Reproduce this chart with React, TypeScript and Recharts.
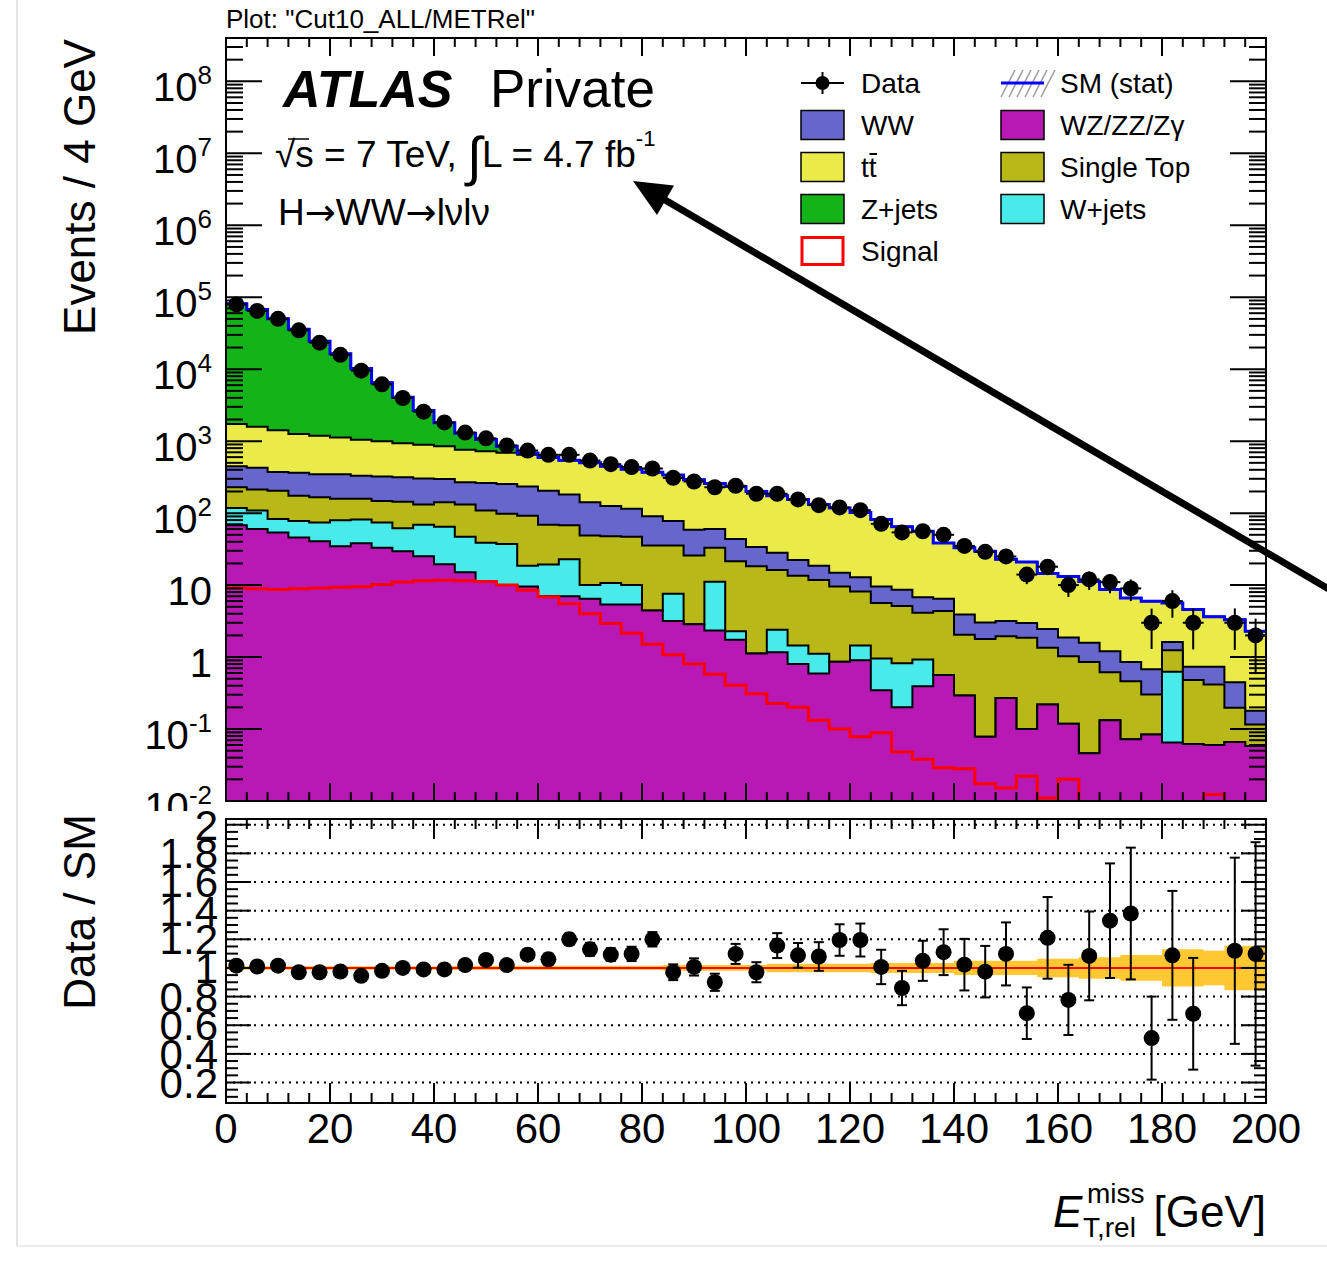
import React from 'react';
import {
  ComposedChart,
  Area,
  Line,
  Scatter,
  XAxis,
  YAxis,
  ErrorBar,
  ReferenceArea,
  ReferenceLine,
} from 'recharts';

const FONT = '"Liberation Sans", Arial, Helvetica, sans-serif';

// ---------------- data (50 bins of 4 GeV) ----------------
const BIN_LO = [0, 4, 8, 12, 16, 20, 24, 28, 32, 36, 40, 44, 48, 52, 56, 60, 64, 68, 72, 76, 80, 84, 88, 92, 96, 100, 104, 108, 112, 116, 120, 124, 128, 132, 136, 140, 144, 148, 152, 156, 160, 164, 168, 172, 176, 180, 184, 188, 192, 196];

const WZ = [67.6, 60.3, 53.7, 45.7, 40.7, 34.7, 38.0, 33.1, 29.5, 25.1, 19.5, 15.1, 11.2, 10.0, 9.55, 7.08, 7.0, 6.46, 5.37, 5.37, 4.42, 3.16, 2.85, 2.34, 1.74, 1.12, 1.17, 0.8, 0.589, 0.861, 0.9, 0.347, 0.2, 0.394, 0.562, 0.292, 0.078, 0.269, 0.1, 0.219, 0.118, 0.046, 0.132, 0.072, 0.084, 0.065, 0.062, 0.06, 0.066, 0.058];
const WJETS = [49.9, 48.1, 29.5, 31.9, 33.4, 44.7, 43.3, 41.0, 32.2, 44.1, 45.1, 31.7, 27.7, 27.2, 9.05, 12.2, 15.9, 3.54, 5.33, 4.63, 0, 4.43, 0, 8.76, 0.55, 0, 1.23, 0.645, 0.52, 0, 0.545, 0.608, 0.622, 0.529, 0, 0, 0, 0, 0, 0, 0, 0, 0, 0, 0, 0.559, 0, 0, 0, 0];
const STOP = [111.5, 105.4, 120.8, 96.2, 91.9, 79.1, 77.2, 73.8, 82.8, 62.6, 76.7, 85.0, 69.5, 60.5, 73.7, 49.9, 44.7, 39.0, 37.2, 36.8, 31.1, 27.9, 22.85, 22.0, 19.1, 17.1, 13.8, 12.05, 10.64, 8.69, 6.69, 4.67, 4.31, 3.2, 3.81, 1.75, 1.7, 1.68, 1.76, 1.13, 0.905, 0.805, 0.485, 0.39, 0.218, 0.621, 0.417, 0.357, 0.131, 0.058];
const WWV = [218, 212.8, 167.5, 189.2, 180.7, 188.2, 172.6, 175.7, 171.7, 170.2, 157.2, 137.4, 154.6, 156.4, 142.1, 135.0, 114.4, 92.3, 78.0, 68.0, 54.7, 42.1, 33.2, 27.2, 22.3, 15.7, 12.0, 8.9, 6.85, 5.25, 4.77, 3.93, 3.48, 2.64, 2.09, 1.85, 1.24, 1.21, 1.125, 1.105, 0.84, 0.734, 0.585, 0.389, 0.374, 0.375, 0.254, 0.316, 0.25, 0.063];
const TTBAR = [1291, 1158, 1042, 896, 842, 775, 716, 676, 617, 589, 552, 489, 461, 438, 411, 378, 355, 360, 321, 293, 281, 261, 233, 197, 191, 166, 146, 132.5, 113.2, 102.7, 89.4, 71.7, 56.0, 49.4, 32.0, 29.2, 26.5, 19.7, 17.9, 12.0, 11.3, 9.6, 7.51, 5.76, 5.28, 4.0, 3.84, 2.9, 2.86, 2.11];
const ZJETS = [79540, 66015, 48690, 34640, 23360, 15210, 9183, 5457, 3141, 1770, 956, 529, 330, 159, 38, 16, 6, 0, 0, 0, 0, 0, 0, 0, 0, 0, 0, 0, 0, 0, 0, 0, 0, 0, 0, 0, 0, 0, 0, 0, 0, 0, 0, 0, 0, 0, 0, 0, 0, 0];
const SIGNAL = [9.1, 8.9, 8.7, 8.9, 9.1, 9.3, 9.5, 10.2, 11.0, 11.5, 11.7, 11.5, 11.2, 10.0, 8.5, 6.9, 5.5, 4.0, 2.92, 2.14, 1.51, 1.08, 0.8, 0.575, 0.407, 0.309, 0.226, 0.2, 0.132, 0.1, 0.078, 0.089, 0.048, 0.038, 0.029, 0.028, 0.0174, 0.0151, 0.0221, 0.011, 0.02, 0.005, 0.005, 0.005, 0.005, 0.005, 0.005, 0.0123, 0.005, 0.005];
const DATA: (number | null)[] = [79400, 64600, 50100, 34700, 23400, 15850, 9550, 6170, 3980, 2570, 1820, 1318, 1096, 871, 741, 646, 646, 537, 479, 437, 417, 309, 275, 229, 240, 186, 186, 155, 129, 120, 110, 71, 54, 56, 50, 35, 29, 25, 14, 18, 10, 12, 11, 9, 3, 6, 3, null, 3, 2];
const RATIO: (number | null)[] = [1.016, 1.01, 1.016, 0.97, 0.97, 0.975, 0.945, 0.98, 1.0, 0.99, 0.99, 1.02, 1.056, 1.02, 1.093, 1.06, 1.2, 1.13, 1.093, 1.098, 1.2, 0.97, 1.007, 0.9, 1.098, 0.97, 1.156, 1.088, 1.08, 1.195, 1.195, 1.007, 0.86, 1.05, 1.11, 1.023, 0.974, 1.098, 0.684, 1.21, 0.777, 1.084, 1.33, 1.38, 0.51, 1.088, 0.68, null, 1.12, 1.098];
const RATIO_ERR: (number | null)[] = [0.005, 0.006, 0.006, 0.007, 0.008, 0.01, 0.012, 0.014, 0.017, 0.02, 0.023, 0.028, 0.03, 0.034, 0.038, 0.04, 0.04, 0.045, 0.045, 0.05, 0.05, 0.055, 0.06, 0.06, 0.07, 0.07, 0.087, 0.086, 0.1, 0.11, 0.115, 0.12, 0.12, 0.14, 0.16, 0.18, 0.18, 0.22, 0.18, 0.285, 0.245, 0.31, 0.4, 0.46, 0.29, 0.45, 0.39, null, 0.65, 0.78];
const MC_STAT = [0.012, 0.012, 0.012, 0.012, 0.012, 0.012, 0.012, 0.012, 0.012, 0.012, 0.012, 0.015, 0.015, 0.015, 0.015, 0.015, 0.015, 0.015, 0.015, 0.015, 0.015, 0.02, 0.02, 0.02, 0.02, 0.02, 0.03, 0.03, 0.03, 0.03, 0.03, 0.035, 0.035, 0.035, 0.035, 0.05, 0.05, 0.05, 0.05, 0.065, 0.065, 0.075, 0.075, 0.09, 0.09, 0.13, 0.13, 0.12, 0.155, 0.155];

// ---------------- ticks ----------------
const X_MAJOR = [0, 20, 40, 60, 80, 100, 120, 140, 160, 180, 200];
const X_MINOR_STEP = 4;
const X_ALL = Array.from({ length: 51 }, (_, i) => i * X_MINOR_STEP);
const LOG_DECADES = [-2, -1, 0, 1, 2, 3, 4, 5, 6, 7, 8];
const LOG_MULT = [1, 2, 3, 4, 5, 6, 7, 8, 9];
const LOG_TICKS = LOG_DECADES.flatMap((d) => LOG_MULT.map((m) => m * Math.pow(10, d))).filter((v) => v <= 4e8);
const RATIO_MAJOR = [0.2, 0.4, 0.6, 0.8, 1.0, 1.2, 1.4, 1.6, 1.8, 2.0];
const RATIO_MINOR = [0.1, 0.15, 0.25, 0.3, 0.35, 0.45, 0.5, 0.55, 0.65, 0.7, 0.75, 0.85, 0.9, 0.95, 1.05, 1.1, 1.15, 1.25, 1.3, 1.35, 1.45, 1.5, 1.55, 1.65, 1.7, 1.75, 1.85, 1.9, 1.95];
const RATIO_TICKS = [...RATIO_MAJOR, ...RATIO_MINOR].sort((a, b) => a - b);

const COL = {
  zjets: '#14B418',
  ttbar: '#EAEA48',
  ww: '#6666CC',
  stop: '#B8B818',
  wjets: '#48EAEA',
  wz: '#B818B4',
  band: '#FFC832',
};

// ---------------- layout ----------------
const W = 1327;
const M_L = 226;
const M_R = 1266;
const M_T = 38;
const M_B = 801;
const MAIN_H = 821;
const R_TOP = 811; // page y of ratio pad
const R_H = 360;
const R_T = 8; // plot top inside ratio chart
const R_B = 292; // plot bottom inside ratio chart

// ---------------- derived rows ----------------
const mainRows = [...BIN_LO, 200].map((x, k) => {
  const i = Math.min(k, BIN_LO.length - 1);
  const c1 = WZ[i];
  const c2 = c1 + WJETS[i];
  const c3 = c2 + STOP[i];
  const c4 = c3 + WWV[i];
  const c5 = c4 + TTBAR[i];
  const c6 = c5 + ZJETS[i];
  return { x, c1, c2, c3, c4, c5, c6, sig: SIGNAL[i] };
});

const dataPts = BIN_LO.map((lo, i) => {
  const d = DATA[i];
  const r = RATIO[i];
  const e = RATIO_ERR[i];
  if (d == null || r == null || e == null) return null;
  return { x: lo + 2, y: d, ex: 2, ey: (d * e) / r };
}).filter((p) => p !== null) as { x: number; y: number; ex: number; ey: number }[];

const ratioRows = [...BIN_LO, 200].map((x, k) => {
  const i = Math.min(k, BIN_LO.length - 1);
  return { x, band: [1 - MC_STAT[i], 1 + MC_STAT[i]] };
});

const ratioPts = BIN_LO.map((lo, i) => {
  const r = RATIO[i];
  const e = RATIO_ERR[i];
  if (r == null || e == null) return null;
  return { x: lo + 2, y: r, ey: e };
}).filter((p) => p !== null) as { x: number; y: number; ey: number }[];

// ---------------- tick renderers ----------------
const renderMainXTick = (p: any) => {
  const v = p.payload.value;
  const x = p.x;
  const major = X_MAJOR.includes(v);
  const len = major ? 18 : 9;
  return (
    <g>
      <line x1={x} x2={x} y1={M_B} y2={M_B - len} stroke="#000" strokeWidth={2} />
      <line x1={x} x2={x} y1={M_T} y2={M_T + len} stroke="#000" strokeWidth={2} />
    </g>
  );
};

const renderLogTick = (p: any) => {
  const v = p.payload.value;
  const y = p.y;
  const lg = Math.log10(v);
  const e = Math.round(lg);
  const major = Math.abs(lg - e) < 1e-6;
  const len = major ? 36 : 17;
  let label: React.ReactNode = null;
  if (major) {
    if (e === 0 || e === 1) {
      label = (
        <text x={M_L - 14} y={y + 20} textAnchor="end" fontSize={40} fontFamily={FONT} fill="#000">
          {e === 0 ? '1' : '10'}
        </text>
      );
    } else {
      label = (
        <text x={M_L - 14} y={y + 20} textAnchor="end" fontSize={40} fontFamily={FONT} fill="#000">
          10
          <tspan fontSize={26} dy={-17}>
            {String(e)}
          </tspan>
        </text>
      );
    }
  }
  return (
    <g>
      <line x1={M_L} x2={M_L + len} y1={y} y2={y} stroke="#000" strokeWidth={2} />
      <line x1={M_R} x2={M_R - len} y1={y} y2={y} stroke="#000" strokeWidth={2} />
      {label}
    </g>
  );
};

const renderRatioXTick = (p: any) => {
  const v = p.payload.value;
  const x = p.x;
  const major = X_MAJOR.includes(v);
  const len = major ? 20 : 10;
  return (
    <g>
      <line x1={x} x2={x} y1={R_B} y2={R_B - len} stroke="#000" strokeWidth={2} />
      <line x1={x} x2={x} y1={R_T} y2={R_T + len} stroke="#000" strokeWidth={2} />
      {major ? (
        <text x={x} y={R_B + 40} textAnchor="middle" fontSize={42} fontFamily={FONT} fill="#000">
          {String(v)}
        </text>
      ) : null}
    </g>
  );
};

const renderRatioYTick = (p: any) => {
  const v = p.payload.value;
  const y = p.y;
  const major = RATIO_MAJOR.some((m) => Math.abs(m - v) < 1e-6);
  const len = major ? 25 : 12;
  return (
    <g>
      <line x1={M_L} x2={M_L + len} y1={y} y2={y} stroke="#000" strokeWidth={2} />
      <line x1={M_R} x2={M_R - len} y1={y} y2={y} stroke="#000" strokeWidth={2} />
      {major ? (
        <text x={218} y={y + 15} textAnchor="end" fontSize={42} fontFamily={FONT} fill="#000">
          {String(Number(v.toFixed(1)))}
        </text>
      ) : null}
    </g>
  );
};

const dot = (p: any) => <circle cx={p.cx} cy={p.cy} r={8} fill="#000" />;

const mainMargin = { top: M_T, right: W - M_R, bottom: 0, left: 0 };
const ratioMargin = { top: R_T, right: W - M_R, bottom: 0, left: 0 };

// ---------------- charts ----------------
function MainPlot() {
  return (
    <ComposedChart width={W} height={MAIN_H} data={mainRows} margin={mainMargin}>
      <XAxis dataKey="x" type="number" domain={[0, 200]} allowDataOverflow height={MAIN_H - M_B} tick={false} tickLine={false} axisLine={false} />
      <YAxis type="number" scale="log" domain={[0.01, 4e8]} allowDataOverflow width={M_L} tick={false} tickLine={false} axisLine={false} />
      <Area type="stepAfter" dataKey="c6" fill={COL.zjets} fillOpacity={1} stroke="#000" strokeWidth={2} baseValue="dataMin" isAnimationActive={false} />
      <Area type="stepAfter" dataKey="c5" fill={COL.ttbar} fillOpacity={1} stroke="#000" strokeWidth={2} baseValue="dataMin" isAnimationActive={false} />
      <Area type="stepAfter" dataKey="c4" fill={COL.ww} fillOpacity={1} stroke="#000" strokeWidth={2} baseValue="dataMin" isAnimationActive={false} />
      <Area type="stepAfter" dataKey="c3" fill={COL.stop} fillOpacity={1} stroke="#000" strokeWidth={2} baseValue="dataMin" isAnimationActive={false} />
      <Area type="stepAfter" dataKey="c2" fill={COL.wjets} fillOpacity={1} stroke="#000" strokeWidth={2} baseValue="dataMin" isAnimationActive={false} />
      <Area type="stepAfter" dataKey="c1" fill={COL.wz} fillOpacity={1} stroke="#000" strokeWidth={2} baseValue="dataMin" isAnimationActive={false} />
      <Line type="stepAfter" dataKey="sig" stroke="#FF0000" strokeWidth={3} dot={false} activeDot={false} isAnimationActive={false} />
      <Line type="stepAfter" dataKey="c6" stroke="#0000FF" strokeWidth={3} dot={false} activeDot={false} isAnimationActive={false} />
      <Scatter data={dataPts} dataKey="y" shape={dot} isAnimationActive={false}>
        <ErrorBar dataKey="ey" direction="y" width={0} stroke="#000" strokeWidth={2} />
        <ErrorBar dataKey="ex" direction="x" width={0} stroke="#000" strokeWidth={2} />
      </Scatter>
    </ComposedChart>
  );
}

function MainAxes() {
  return (
    <ComposedChart width={W} height={MAIN_H} data={mainRows} margin={mainMargin}>
      <XAxis dataKey="x" type="number" domain={[0, 200]} allowDataOverflow ticks={X_ALL} interval={0} height={MAIN_H - M_B} tickSize={0} tickMargin={0} axisLine={false} tickLine={false} tick={renderMainXTick} />
      <YAxis type="number" scale="log" domain={[0.01, 4e8]} allowDataOverflow ticks={LOG_TICKS} interval={0} width={M_L} tickSize={0} tickMargin={0} axisLine={false} tickLine={false} tick={renderLogTick} />
      <Line dataKey="c6" stroke="none" dot={false} activeDot={false} isAnimationActive={false} />
      <ReferenceArea x1={0} x2={200} y1={0.01} y2={4e8} fill="none" fillOpacity={0} stroke="#000" strokeWidth={2} ifOverflow="visible" />
    </ComposedChart>
  );
}

function RatioPlot() {
  return (
    <ComposedChart width={W} height={R_H} data={ratioRows} margin={ratioMargin}>
      <XAxis dataKey="x" type="number" domain={[0, 200]} allowDataOverflow height={R_H - R_B} tick={false} tickLine={false} axisLine={false} />
      <YAxis type="number" domain={[0.057, 2.04]} allowDataOverflow width={M_L} tick={false} tickLine={false} axisLine={false} />
      {RATIO_MAJOR.map((v) => (
        <ReferenceLine key={v} y={v} stroke="#000" strokeWidth={2} strokeDasharray="2 5" />
      ))}
      <Area type="stepAfter" dataKey="band" fill={COL.band} fillOpacity={1} stroke="none" isAnimationActive={false} />
      <ReferenceLine y={1} stroke="#FF0000" strokeWidth={2} />
      <Scatter data={ratioPts} dataKey="y" shape={dot} isAnimationActive={false}>
        <ErrorBar dataKey="ey" direction="y" width={5} stroke="#000" strokeWidth={2} />
      </Scatter>
    </ComposedChart>
  );
}

function RatioAxes() {
  return (
    <ComposedChart width={W} height={R_H} data={ratioRows} margin={ratioMargin}>
      <XAxis dataKey="x" type="number" domain={[0, 200]} allowDataOverflow ticks={X_ALL} interval={0} height={R_H - R_B} tickSize={0} tickMargin={0} axisLine={false} tickLine={false} tick={renderRatioXTick} />
      <YAxis type="number" domain={[0.057, 2.04]} allowDataOverflow ticks={RATIO_TICKS} interval={0} width={M_L} tickSize={0} tickMargin={0} axisLine={false} tickLine={false} tick={renderRatioYTick} />
      <Line dataKey="x" stroke="none" dot={false} activeDot={false} isAnimationActive={false} />
      <ReferenceArea x1={0} x2={200} y1={0.057} y2={2.04} fill="none" fillOpacity={0} stroke="#000" strokeWidth={2} ifOverflow="visible" />
    </ComposedChart>
  );
}

// ---------------- legend & annotations ----------------
const LEG_ROWS = [83, 125, 167, 209, 251];
const LEG_BOX1 = 801;
const LEG_BOX2 = 1001;
const LEG_TXT1 = 861;
const LEG_TXT2 = 1060;
const ARROW_FONT = '"DejaVu Sans", "Liberation Sans", sans-serif';

function Overlay() {
  const box = (x: number, cy: number, fill: string) => (
    <rect x={x} y={cy - 14.5} width={43} height={29} fill={fill} stroke="#000" strokeWidth={1.5} />
  );
  const txt = (x: number, cy: number, s: React.ReactNode) => (
    <text x={x} y={cy + 10} fontSize={28} fontFamily={FONT} fill="#000">
      {s}
    </text>
  );
  const hatch = [0, 1, 2, 3, 4, 5].map((k) => (
    <line key={k} x1={LEG_BOX2 + k * 8} y1={97} x2={LEG_BOX2 + k * 8 + 14} y2={70} stroke="#999" strokeWidth={1.5} />
  ));
  return (
    <svg width={W} height={1277} style={{ position: 'absolute', left: 0, top: 0, pointerEvents: 'none' }}>
      {/* page frame shadow */}
      <line x1={17} y1={0} x2={17} y2={1246} stroke="#e3e3e3" strokeWidth={2} />
      <line x1={17} y1={1246} x2={W} y2={1246} stroke="#ececec" strokeWidth={2} />

      <text x={226} y={28} fontSize={26} fontFamily={FONT}>
        Plot: "Cut10_ALL/METRel"
      </text>

      <text x={283} y={107} fontSize={52} fontFamily={FONT} fontWeight="bold" fontStyle="italic">
        ATLAS
      </text>
      <text x={490} y={107} fontSize={53} fontFamily={FONT}>
        Private
      </text>

      <text x={275} y={167} fontSize={37} fontFamily={FONT}>
        √<tspan>s = 7 TeV, </tspan>
        <tspan fontSize={54} dy={8}>∫</tspan>
        <tspan dy={-8}>L = 4.7 fb</tspan>
        <tspan fontSize={22} dy={-21}>-1</tspan>
      </text>
      <line x1={288} y1={139} x2={309} y2={139} stroke="#000" strokeWidth={1.5} />

      <text x={278} y={225} fontSize={37} fontFamily={FONT}>
        H<tspan fontFamily={ARROW_FONT}>→</tspan>WW<tspan fontFamily={ARROW_FONT}>→</tspan>lνlν
      </text>

      {/* legend column 1 */}
      <line x1={LEG_BOX1} y1={LEG_ROWS[0]} x2={LEG_BOX1 + 43} y2={LEG_ROWS[0]} stroke="#000" strokeWidth={2} />
      <line x1={LEG_BOX1 + 21.5} y1={LEG_ROWS[0] - 11} x2={LEG_BOX1 + 21.5} y2={LEG_ROWS[0] + 11} stroke="#000" strokeWidth={2} />
      <circle cx={LEG_BOX1 + 21.5} cy={LEG_ROWS[0]} r={7} fill="#000" />
      {txt(LEG_TXT1, LEG_ROWS[0], 'Data')}
      {box(LEG_BOX1, LEG_ROWS[1], COL.ww)}
      {txt(LEG_TXT1, LEG_ROWS[1], 'WW')}
      {box(LEG_BOX1, LEG_ROWS[2], COL.ttbar)}
      {txt(LEG_TXT1, LEG_ROWS[2], 'tt')}
      <line x1={LEG_TXT1 + 8.5} y1={LEG_ROWS[2] - 13} x2={LEG_TXT1 + 16} y2={LEG_ROWS[2] - 13} stroke="#000" strokeWidth={2} />
      {box(LEG_BOX1, LEG_ROWS[3], COL.zjets)}
      {txt(LEG_TXT1, LEG_ROWS[3], 'Z+jets')}
      <rect x={LEG_BOX1 + 1} y={LEG_ROWS[4] - 13.5} width={41} height={27} fill="#fff" stroke="#FF0000" strokeWidth={3} />
      {txt(LEG_TXT1, LEG_ROWS[4], 'Signal')}

      {/* legend column 2 */}
      {hatch}
      <line x1={LEG_BOX2} y1={LEG_ROWS[0]} x2={LEG_BOX2 + 43} y2={LEG_ROWS[0]} stroke="#0000FF" strokeWidth={3} />
      {txt(LEG_TXT2, LEG_ROWS[0], 'SM (stat)')}
      {box(LEG_BOX2, LEG_ROWS[1], COL.wz)}
      {txt(LEG_TXT2, LEG_ROWS[1], 'WZ/ZZ/Zγ')}
      {box(LEG_BOX2, LEG_ROWS[2], COL.stop)}
      {txt(LEG_TXT2, LEG_ROWS[2], 'Single Top')}
      {box(LEG_BOX2, LEG_ROWS[3], COL.wjets)}
      {txt(LEG_TXT2, LEG_ROWS[3], 'W+jets')}

      {/* arrow */}
      <line x1={1345} y1={598.5} x2={660} y2={197} stroke="#000" strokeWidth={7} />
      <polygon points="633,181 657,215 674,185.5" fill="#000" />

      {/* axis titles */}
      <text transform="translate(95,187) rotate(-90)" textAnchor="middle" fontSize={44} fontFamily={FONT}>
        Events / 4 GeV
      </text>
      <text transform="translate(95,912) rotate(-90)" textAnchor="middle" fontSize={44} fontFamily={FONT}>
        Data / SM
      </text>

      <text x={1053} y={1227} fontSize={44} fontFamily={FONT} fontStyle="italic">
        E
      </text>
      <text x={1087} y={1203} fontSize={28} fontFamily={FONT}>
        miss
      </text>
      <text x={1083} y={1237} fontSize={28} fontFamily={FONT}>
        T,rel
      </text>
      <text x={1266} y={1227} fontSize={44} fontFamily={FONT} textAnchor="end">
        [GeV]
      </text>
    </svg>
  );
}

export default function App() {
  return (
    <div style={{ position: 'absolute', left: 0, top: 0, width: W, height: 1277, background: '#fff', fontFamily: FONT }}>
      <div style={{ position: 'absolute', left: 0, top: 0 }}>
        <MainPlot />
      </div>
      <div style={{ position: 'absolute', left: 0, top: 0 }}>
        <MainAxes />
      </div>
      <div style={{ position: 'absolute', left: 18, top: R_TOP, width: W - 18, height: R_H, background: '#fff' }} />
      <div style={{ position: 'absolute', left: 0, top: R_TOP }}>
        <RatioPlot />
      </div>
      <div style={{ position: 'absolute', left: 0, top: R_TOP }}>
        <RatioAxes />
      </div>
      <Overlay />
    </div>
  );
}
